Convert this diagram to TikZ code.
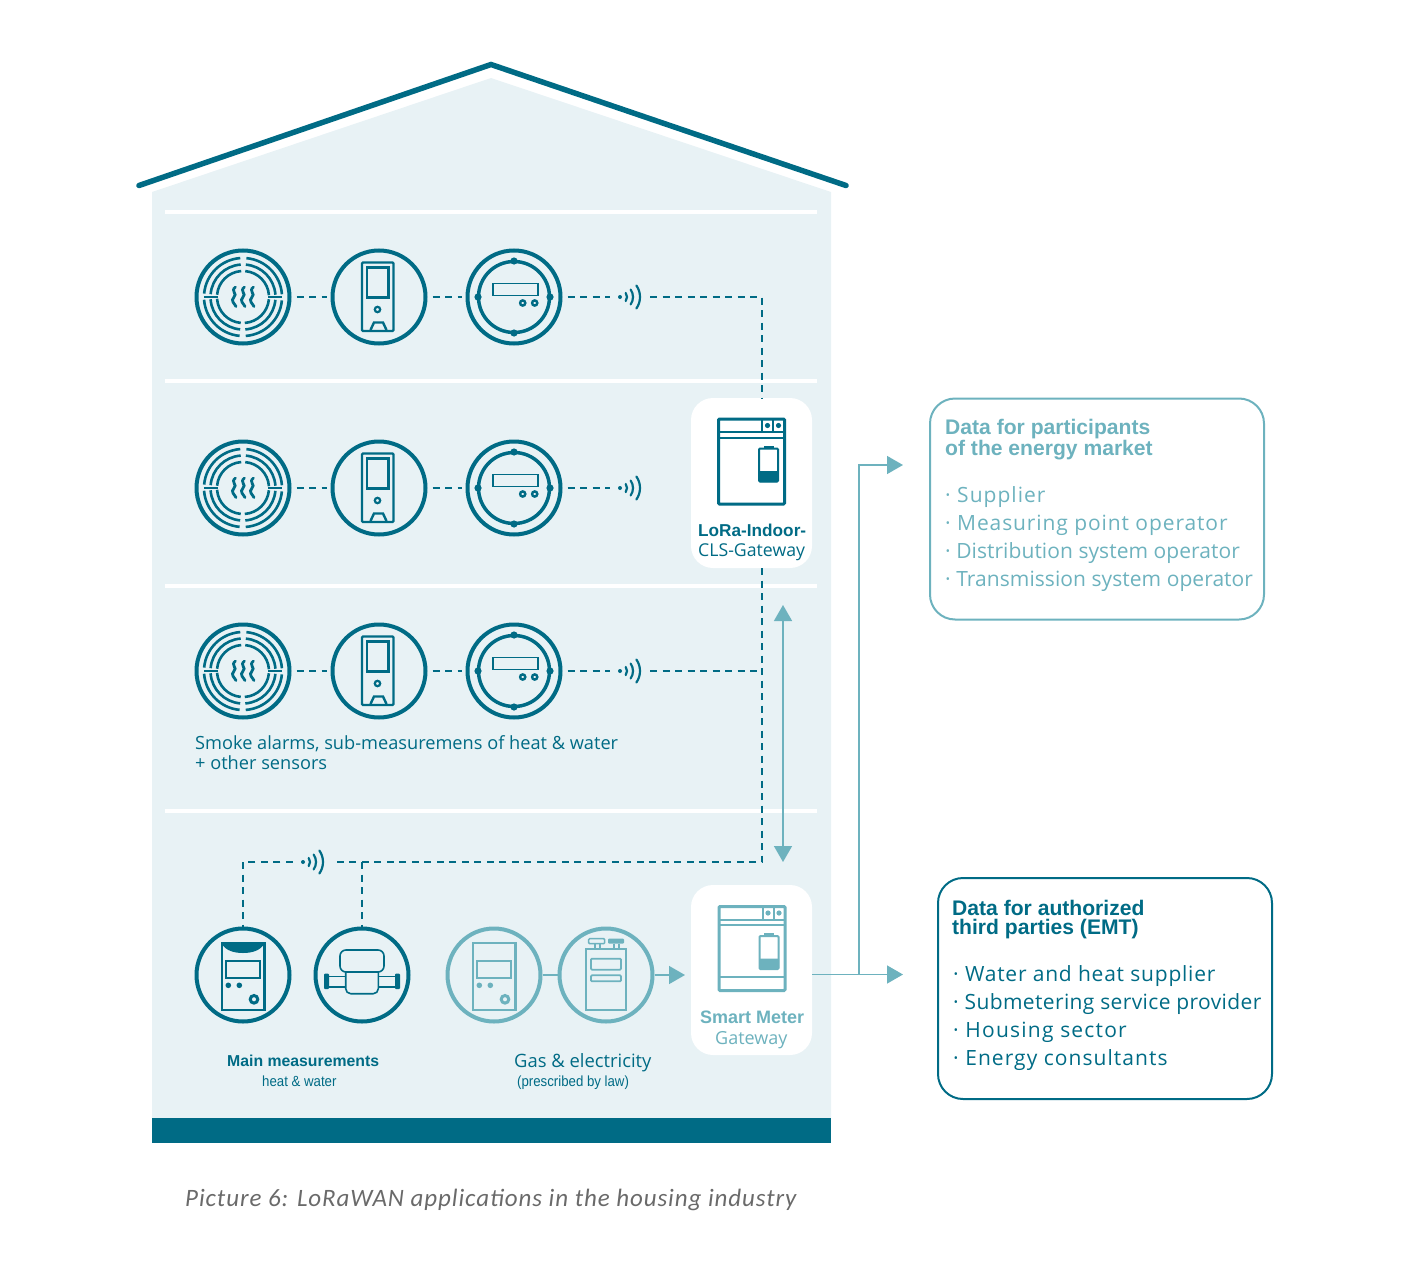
\documentclass[tikz,border=0pt]{standalone}
\usepackage{fontspec}
\setmainfont{Open Sans}
\newfontfamily\arialfont{Liberation Sans}
\newfontfamily\arialnarrow[FakeStretch=0.9]{Liberation Sans}
\newfontfamily\captionfont[LetterSpace=3.65]{Carlito}
\newcommand{\spaced}[2]{{\addfontfeature{LetterSpace=#1}\textperiodcentered\ #2}}
\usetikzlibrary{arrows.meta}
\definecolor{tealdark}{HTML}{006B85}
\definecolor{teallight}{HTML}{6DB2BE}
\definecolor{housefill}{HTML}{E8F2F5}
\definecolor{captiongray}{HTML}{6A6A6A}
\tikzset{
  iconring/.style={circle,draw=tealdark,line width=4pt,minimum size=93pt,inner sep=0pt},
  lightring/.style={iconring,draw=teallight},
  signal/.style={minimum width=40pt,minimum height=30pt,inner sep=0pt},
  gatewaybox/.style={fill=white,rounded corners=22pt,minimum width=121pt,minimum height=170pt,inner sep=0pt},
  databox/.style={rounded corners=25pt,line width=2pt,minimum width=334pt,minimum height=221pt,inner sep=0pt},
  datalink/.style={draw=tealdark,line width=2pt,dash pattern=on 7pt off 5.5pt},
  feedlink/.style={draw=teallight,line width=1.5pt},
  feedarrow/.style={feedlink,-{Triangle[length=16pt,width=18pt]}},
  floorline/.style={draw=white,line width=3.5pt},
  bodytext/.style={anchor=base west,inner sep=0pt,text=tealdark,font=\fontsize{18.2}{20}\selectfont},
  boldtext/.style={anchor=base west,inner sep=0pt,text=tealdark,font=\arialfont\bfseries\fontsize{18}{20}\selectfont},
  listtext/.style={anchor=base west,inner sep=0pt,font=\fontsize{21}{28}\selectfont,align=left},
  titletext/.style={anchor=base west,inner sep=0pt,font=\arialfont\bfseries\fontsize{21.1}{19}\selectfont,align=left},
  pics/smokeicon/.style={code={
    \foreach \a in {0,90,180,270}
      \foreach \r in {26,32.5,39}
        \draw[line width=2.6pt] ([shift={(\a+5:\r)}]0,0) arc[start angle=\a+5,end angle=\a+86,radius=\r];
    \draw[line width=2pt] (-39,0) -- (-25,0) (25,0) -- (39,0);
    \foreach \s in {-9,0,9}
      \draw[line width=2.8pt,line cap=round] (\s+1.5,-10) .. controls (\s-4,-6) and (\s+4,-3) .. (\s,0) .. controls (\s-4,4) and (\s+1,7) .. (\s+2,9.5);
  }},
  pics/panelicon/.style={code={
    \draw[line width=2.4pt,rounded corners=1pt] (-16.5,-34.5) rectangle (15,34);
    \draw[line width=2.4pt] (-11.5,-29.5) rectangle (10,0.5);
    \draw[line width=2.2pt] (-1,12.5) circle (2.7);
    \draw[line width=2.4pt] (-8,33) -- (-4.5,25.5) -- (4.5,25.5) -- (8,33);
  }},
  pics/dialicon/.style={code={
    \draw[line width=3.5pt] (0,0) circle (35.5);
    \foreach \a in {0,90,180,270}
      \fill (\a:36) circle (3.6);
    \draw[line width=1.8pt] (-21,-13.5) rectangle (24,-1.5);
    \draw[line width=2.4pt] (8.7,6) circle (2.6);
    \draw[line width=2.4pt] (20.7,6) circle (2.6);
  }},
  pics/heaticon/.style={code={
    \draw[line width=2.4pt] (-21.3,-32) rectangle (21.3,34.7);
    \draw[line width=2.4pt] (-17,-14) rectangle (17,2.7);
    \fill (-14.7,10.3) circle (2.8) (-3.7,10.3) circle (2.8);
    \draw[line width=3pt] (11,24.3) circle (3.8);
  }},
  pics/domepart/.style={code={
    \fill (-21.3,-32) .. controls (-18,-24) and (-8,-22) .. (0,-22) .. controls (8,-22) and (18,-24) .. (21.3,-32) -- cycle;
  }},
  pics/watericon/.style={code={
    \draw[line width=1.6pt,rounded corners=6pt] (-22,-25) rectangle (22,-3);
    \draw[line width=1.6pt,rounded corners=5pt] (-16.3,-3) -- (-16.3,18.7) -- (16.3,18.7) -- (16.3,-3);
    \draw[line width=1.6pt] (-33,1.3) -- (-16.3,1.3) (-33,12) -- (-16.3,12) (33,1.3) -- (16.3,1.3) (33,12) -- (16.3,12);
    \fill[rounded corners=1pt] (-38,-1.3) rectangle (-33,14) (33,-1.3) rectangle (38,14);
  }},
  pics/gasicon/.style={code={
    \draw[line width=2.2pt] (-19.7,-26.3) rectangle (20.3,35);
    \draw[line width=1.8pt,rounded corners=1pt] (-15,-16.3) rectangle (15,-5.3);
    \draw[line width=1.8pt,rounded corners=1pt] (-15,0.3) rectangle (15,6.3);
    \draw[line width=1.5pt,rounded corners=1pt] (-17.3,-36.3) rectangle (-1.3,-31.3);
    \fill[rounded corners=1pt] (2,-36.3) rectangle (18,-31.3);
    \draw[line width=1.5pt] (-11,-31.3) -- (-11,-26.3) (-6,-31.3) -- (-6,-26.3) (8,-31.3) -- (8,-26.3) (13,-31.3) -- (13,-26.3);
  }},
  pics/wifiicon/.style={code={
    \fill (-10,0) circle (2);
    \foreach \r in {7,13,20}
      \draw[line width=2.2pt,line cap=round] ([shift={(-35:\r)}]-10,0) arc[start angle=-35,end angle=35,radius=\r];
  }},
  pics/gatewayicon/.style={code={
    \draw[line width=3pt,rounded corners=1pt] (0,0) rectangle (66,#1);
    \draw[line width=2pt] (0,13) -- (66,13) (0,18.5) -- (66,18.5);
    \draw[line width=2pt] (43.5,0) -- (43.5,13) (54.5,0) -- (54.5,13);
    \fill (49,6.5) circle (2.6) (60,6.5) circle (2.6);
    \draw[line width=2pt,rounded corners=1pt] (40.5,29.5) rectangle (59.5,62.5);
    \fill (45,26.5) rectangle (55,29.5);
    \fill[rounded corners=1pt] (40,52) rectangle (60,63);
  }},
}
\begin{document}
\begin{tikzpicture}[x=1pt,y=-1pt]
  \useasboundingbox (0,0) rectangle (1410,1276);
  % house
  \fill[housefill] (152,192) -- (491,78) -- (831,192) -- (831,1118) -- (152,1118) -- cycle;
  \fill[tealdark] (152,1118) rectangle (831,1143);
  \draw[tealdark,line width=5.5pt,line cap=round] (139,185.5) -- (491,64.5) -- (846,185.5);
  \draw[floorline] (165,212) -- (817,212);
  \draw[floorline] (165,381) -- (817,381);
  \draw[floorline] (165,586) -- (817,586);
  \draw[floorline] (165,811) -- (817,811);

  % gateways
  \node[gatewaybox] (lora) at (751.5,483) {};
  \node[gatewaybox] (smart) at (751.5,970) {};
  \pic[color=tealdark] at (718.5,419) {gatewayicon=85};
  \pic[color=teallight] at (719,906.5) {gatewayicon=84};
  \draw[teallight,line width=2pt] (719,977) -- (785,977);
  \node[boldtext,font=\arialfont\bfseries\fontsize{17.2}{20}\selectfont] (loratitle) at (698,536) {LoRa-Indoor-};
  \node[bodytext,font=\fontsize{17.7}{20}\selectfont] (lorasub) at (698,556) {CLS-Gateway};
  \node[boldtext,text=teallight] (smarttitle) at (700,1023) {Smart Meter};
  \node[bodytext,text=teallight,font=\fontsize{18}{20}\selectfont] (smartsub) at (715,1044) {Gateway};

  % sensor rows
  \node[iconring] (smokeA) at (243,297) {};
  \node[iconring] (panelA) at (379,297) {};
  \node[iconring] (dialA) at (514,297) {};
  \node[signal] (wifiA) at (630,297) {};
  \node[iconring] (smokeB) at (243,488) {};
  \node[iconring] (panelB) at (379,488) {};
  \node[iconring] (dialB) at (514,488) {};
  \node[signal] (wifiB) at (630,488) {};
  \node[iconring] (smokeC) at (243,671) {};
  \node[iconring] (panelC) at (379,671) {};
  \node[iconring] (dialC) at (514,671) {};
  \node[signal] (wifiC) at (630,671) {};
  \foreach \row/\ypos in {A/297,B/488,C/671} {
    \pic[color=tealdark] at (243,\ypos) {smokeicon};
    \pic[color=tealdark] at (378.5,\ypos) {panelicon};
    \pic[color=tealdark] at (514,\ypos) {dialicon};
    \pic[color=tealdark] at (630,\ypos) {wifiicon};
    \draw[datalink,shorten <=5pt,shorten >=4pt] (smoke\row) -- (panel\row);
    \draw[datalink,shorten <=5pt,shorten >=4pt] (panel\row) -- (dial\row);
    \draw[datalink,shorten <=5pt] (dial\row) -- (wifi\row);
  }
  \coordinate (trunkA) at (762,297);
  \coordinate (trunkB) at (762,398);
  \coordinate (trunkC) at (762,568);
  \coordinate (trunkD) at (762,671);
  \coordinate (trunkE) at (762,862);
  \draw[datalink] (wifiA) -- (trunkA) -- (trunkB);
  \draw[datalink] (wifiC) -- (trunkD);
  \node[bodytext] (rowtextA) at (195,749) {Smoke alarms, sub-measuremens of heat \& water};
  \node[bodytext] (rowtextB) at (195,769) {+ other sensors};

  % main measurements
  \node[iconring] (heat) at (243,975) {};
  \node[iconring] (water) at (362,975) {};
  \node[lightring] (power) at (494,975) {};
  \node[lightring] (gas) at (606,975) {};
  \node[signal] (wifiD) at (313,862) {};
  \pic[color=tealdark] at (243,975) {heaticon};
  \pic[color=tealdark] at (243,975) {domepart};
  \pic[color=tealdark] at (362,975) {watericon};
  \pic[color=teallight] at (494,975) {heaticon};
  \pic[color=teallight] at (606,975) {gasicon};
  \pic[color=tealdark] at (313,862) {wifiicon};
  \coordinate (joinD) at (362,862);
  \draw[datalink] (trunkC) -- (trunkE) -- (wifiD);
  \draw[datalink] (wifiD) -| (heat);
  \draw[datalink] (joinD) -- (water);
  \draw[feedlink] (power) -- (gas);
  \draw[feedarrow] (gas) -- (685,975);
  \node[boldtext,font=\arialfont\bfseries\fontsize{15.8}{20}\selectfont] (maintitle) at (227,1066) {Main measurements};
  \node[boldtext,font=\arialnarrow\fontsize{14.7}{20}\selectfont] (mainsub) at (262,1086) {heat \& water};
  \node[bodytext,font=\fontsize{18.4}{20}\selectfont] (gastitle) at (514,1067) {Gas \& electricity};
  \node[boldtext,font=\arialnarrow\fontsize{14.7}{20}\selectfont] (gassub) at (517,1086) {(prescribed by law)};

  % data boxes
  \coordinate (busup) at (783,605);
  \coordinate (busdown) at (783,862);
  \draw[feedlink,{Triangle[length=16pt,width=18pt]}-{Triangle[length=16pt,width=18pt]}] (busup) -- (busdown);
  \node[databox,draw=teallight] (market) at (1097,509) {};
  \node[databox,draw=tealdark] (third) at (1105,988.5) {};
  \coordinate (marketin) at (903,465);
  \coordinate (thirdin) at (903,974.5);
  \coordinate (branch) at (859,974.5);
  \draw[feedarrow] (smart.east |- thirdin) -- (thirdin);
  \draw[feedarrow] (branch) |- (marketin);
  \node[titletext,text=teallight] (markettitle) at (945,455) {Data for participants\\of the energy market};
  \node[titletext,text=tealdark] (thirdtitle) at (952,934) {Data for authorized\\third parties (EMT)};
  \node[listtext,text=teallight] (marketlist) at (945,586) {\spaced{4.8}{Supplier}\\\spaced{4.3}{Measuring point operator}\\\spaced{0.3}{Distribution system operator}\\\spaced{0.3}{Transmission system operator}};
  \node[listtext,text=tealdark] (thirdlist) at (953,1065) {\spaced{3.7}{Water and heat supplier}\\\spaced{1.8}{Submetering service provider}\\\spaced{5.8}{Housing sector}\\\spaced{5}{Energy consultants}};
  \node[anchor=base west,inner sep=0pt,text=captiongray,font=\captionfont\itshape\fontsize{25}{28}\selectfont] (caption) at (185,1206) {Picture 6: LoRaWAN applications in the housing industry};
\end{tikzpicture}
\end{document}
